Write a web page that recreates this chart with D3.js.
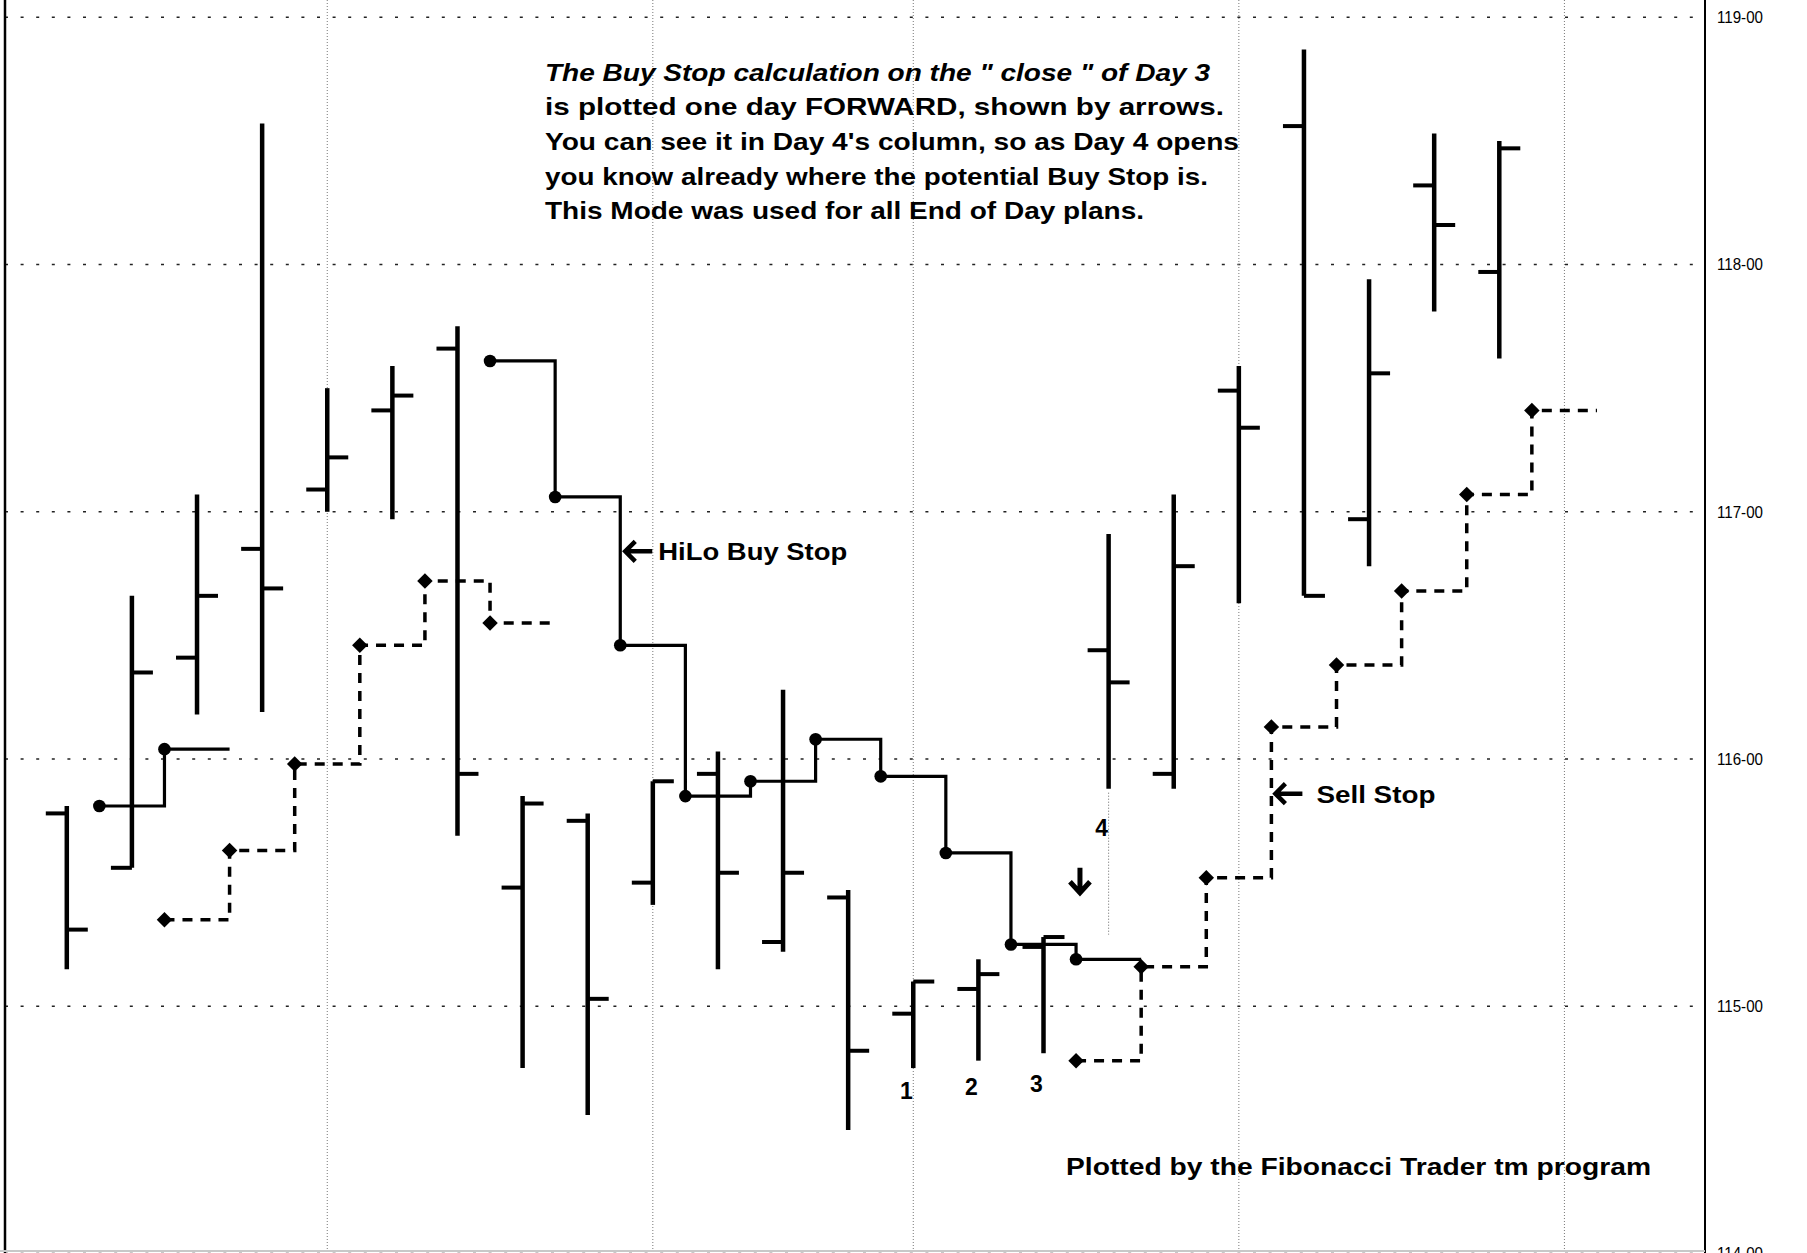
<html>
<head>
<script src="https://d3js.org/d3.v7.min.js"></script>
<style>
  body { margin: 0; background: #fff; }
  svg { display: block; font-family: "Liberation Sans", Arial, sans-serif; }
</style>
</head>
<body>
<div id="chart"></div>
<script>
// bar number on the chart (one per trading day)
var days = [1, 2, 3, 4, 5, 6, 7, 8, 9, 10, 11, 12, 13, 14, 15, 16, 17, 18, 19, 20, 21, 22, 23];

var opens  = [115.78, 115.56, 116.41, 116.85, 117.09, 117.41, 117.66, 115.48, 115.75, 115.50, 115.94, 115.26,
              115.44, 114.97, 115.07, 115.24, 116.44, 115.94, 117.49, 118.56, 116.97, 118.32, 117.97];
var highs  = [115.81, 116.66, 117.07, 118.57, 117.50, 117.59, 117.75, 115.85, 115.78, 115.91, 116.03, 116.28,
              115.47, 115.10, 115.19, 115.28, 116.91, 117.07, 117.59, 118.87, 117.94, 118.53, 118.50];
var lows   = [115.15, 115.56, 116.18, 116.19, 117.00, 116.97, 115.69, 114.75, 114.56, 115.41, 115.15, 115.22,
              114.50, 114.75, 114.78, 114.81, 115.88, 115.88, 116.63, 116.66, 116.78, 117.81, 117.62];
var closes = [115.31, 116.35, 116.66, 116.69, 117.22, 117.47, 115.94, 115.82, 115.03, 115.91, 115.54, 115.54,
              114.82, 115.10, 115.13, 115.28, 116.31, 116.78, 117.34, 116.66, 117.56, 118.16, 118.47];

// stops are plotted one day forward (between bars), null = no stop that day
var buyStop  = [115.81, 116.04, null, null, null, null, 117.61, 117.06, 116.46, 115.85, 115.91, 116.08,
                115.93, 115.62, 115.25, 115.19, null, null, null, null, null, null, null];
var sellStop = [null, 115.35, 115.63, 115.98, 116.46, 116.72, 116.55, null, null, null, null, null,
                null, null, null, 114.78, 115.16, 115.52, 116.13, 116.38, 116.68, 117.07, 117.41];

var yTicks = [114, 115, 116, 117, 118, 119];
var weekLines = [4, 9, 13, 18, 23];   // bar index of the week separators

var noteLines = [
  "The Buy Stop calculation on the \" close \" of Day 3",
  "is plotted one day FORWARD, shown by arrows.",
  "You can see it in Day 4's column, so as Day 4 opens",
  "you know already where the potential Buy Stop is.",
  "This Mode was used for all End of Day plans."
];

var W = 1807, H = 1253, axisX = 1705, leftX = 5;

var svg = d3.select("#chart").append("svg")
  .attr("width", W).attr("height", H);

var x = d3.scaleLinear().domain([0, 22]).range([66.8, 1499.3]);
var y = d3.scaleLinear().domain([114, 119]).range([1253.5, 17.3]);

// grid
svg.append("g").selectAll("line").data(yTicks).enter().append("line")
  .attr("x1", leftX).attr("x2", axisX)
  .attr("y1", d => y(d)).attr("y2", d => y(d))
  .attr("stroke", "#222").attr("stroke-width", 1.6)
  .attr("stroke-dasharray", "3,12.6");

svg.append("g").selectAll("line").data(weekLines).enter().append("line")
  .attr("x1", d => x(d)).attr("x2", d => x(d))
  .attr("y1", 0).attr("y2", H)
  .attr("stroke", "#777").attr("stroke-width", 1)
  .attr("stroke-dasharray", "1,2");

// frame
svg.append("line").attr("x1", leftX).attr("x2", leftX).attr("y1", 0).attr("y2", H)
  .attr("stroke", "#000").attr("stroke-width", 2.5);
svg.append("line").attr("x1", axisX).attr("x2", axisX).attr("y1", 0).attr("y2", H)
  .attr("stroke", "#000").attr("stroke-width", 2);
svg.append("line").attr("x1", 0).attr("x2", axisX).attr("y1", H - 2).attr("y2", H - 2)
  .attr("stroke", "#c8c8c8").attr("stroke-width", 2);

// price axis
var yAxis = d3.axisRight(y).tickValues(yTicks).tickSize(0).tickPadding(12)
  .tickFormat(d => d + "-00");
var yg = svg.append("g").attr("transform", "translate(" + axisX + ",0)").call(yAxis);
yg.select(".domain").remove();
yg.selectAll("text").attr("font-size", 17).attr("font-family", "'Liberation Sans', Arial, sans-serif")
  .attr("textLength", 46).attr("lengthAdjust", "spacingAndGlyphs")
  .attr("fill", "#000");

// OHLC bars
var bars = svg.append("g").attr("stroke", "#000");
days.forEach(function(d, i) {
  bars.append("line").attr("x1", x(i)).attr("x2", x(i))
    .attr("y1", y(highs[i])).attr("y2", y(lows[i])).attr("stroke-width", 4.5);
  bars.append("line").attr("x1", x(i) - 21).attr("x2", x(i))
    .attr("y1", y(opens[i])).attr("y2", y(opens[i])).attr("stroke-width", 4);
  bars.append("line").attr("x1", x(i)).attr("x2", x(i) + 21)
    .attr("y1", y(closes[i])).attr("y2", y(closes[i])).attr("stroke-width", 4);
});

// split a stop series into runs of consecutive values
function runs(arr) {
  var out = [], cur = null;
  arr.forEach(function(v, i) {
    if (v == null) { cur = null; return; }
    if (!cur) { cur = []; out.push(cur); }
    cur.push({i: i, v: v});
  });
  return out;
}

var step = d3.line().curve(d3.curveStepAfter);

function drawStops(arr, dashed) {
  var g = svg.append("g");
  runs(arr).forEach(function(run) {
    var pts = run.map(p => [x(p.i + 0.5), y(p.v)]);
    var last = run[run.length - 1];
    pts.push([x(last.i + 1.5), y(last.v)]);
    g.append("path").attr("d", step(pts)).attr("fill", "none")
      .attr("stroke", "#000").attr("stroke-width", dashed ? 3.5 : 3.2)
      .attr("stroke-dasharray", dashed ? "10,8" : null);
    // round dots on the buy stop, fat diamonds on the sell stop
    g.selectAll(null).data(run).enter().append("path")
      .attr("transform", p => "translate(" + x(p.i + 0.5) + "," + y(p.v) + ")" + (dashed ? " rotate(45)" : ""))
      .attr("d", d3.symbol().type(dashed ? d3.symbolSquare : d3.symbolCircle).size(dashed ? 120 : 125))
      .attr("fill", "#000");
  });
}
drawStops(buyStop, false);
drawStops(sellStop, true);

// annotations
var ann = svg.append("g").attr("font-weight", "bold").attr("fill", "#000");

var noteW = [665, 679, 694, 663, 599];
ann.selectAll(null).data(noteLines).enter().append("text")
  .attr("x", 545).attr("y", (d, i) => 80.7 + i * 34.6)
  .attr("font-size", 24)
  .attr("font-style", (d, i) => i === 0 ? "italic" : "normal")
  .attr("textLength", (d, i) => noteW[i]).attr("lengthAdjust", "spacingAndGlyphs")
  .text(d => d);

function leftArrow(tx, ty) {
  ann.append("path")
    .attr("d", "M" + (tx + 29) + "," + ty + "H" + (tx + 3) + "M" + (tx + 12) + "," + (ty - 10) +
      "L" + (tx + 2) + "," + ty + "L" + (tx + 12) + "," + (ty + 10))
    .attr("fill", "none").attr("stroke", "#000").attr("stroke-width", 4.5);
}

var hx = x(8.5) + 3, hy = y(116.84);
leftArrow(hx, hy);
ann.append("text").attr("x", hx + 35).attr("y", hy + 9).attr("font-size", 24)
  .attr("textLength", 189).attr("lengthAdjust", "spacingAndGlyphs").text("HiLo Buy Stop");

var sx = x(18.5) + 2, sy = y(115.86);
leftArrow(sx, sy);
ann.append("text").attr("x", sx + 43).attr("y", sy + 9).attr("font-size", 24)
  .attr("textLength", 119).attr("lengthAdjust", "spacingAndGlyphs").text("Sell Stop");

// day numbers under the last bars
var dayMarks = [{i: 13, t: "1", v: 114.625}, {i: 14, t: "2", v: 114.64}, {i: 15, t: "3", v: 114.655},
                {i: 16, t: "4", v: 115.69}];
ann.selectAll(null).data(dayMarks).enter().append("text")
  .attr("x", d => x(d.i) - 7).attr("y", d => y(d.v))
  .attr("text-anchor", "middle").attr("font-size", 23).text(d => d.t);

// thin guide under day 4 bar and the down arrow
svg.append("line").attr("x1", x(16)).attr("x2", x(16))
  .attr("y1", y(lows[16]) + 4).attr("y2", y(115.29))
  .attr("stroke", "#666").attr("stroke-width", 1).attr("stroke-dasharray", "1,2");
var ax = x(15.56), ay = y(115.56);
ann.append("path")
  .attr("d", "M" + ax + "," + ay + "V" + (ay + 25) + "M" + (ax - 10) + "," + (ay + 14) +
    "L" + ax + "," + (ay + 25) + "L" + (ax + 10) + "," + (ay + 14))
  .attr("fill", "none").attr("stroke", "#000").attr("stroke-width", 5);

ann.append("text").attr("x", 1066).attr("y", 1175).attr("font-size", 24)
  .attr("textLength", 585).attr("lengthAdjust", "spacingAndGlyphs")
  .text("Plotted by the Fibonacci Trader tm program");
</script>
</body>
</html>
